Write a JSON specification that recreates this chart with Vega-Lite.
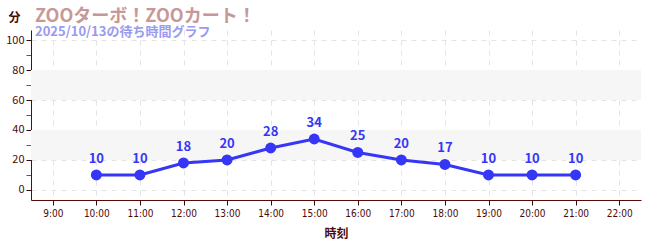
{
  "$schema": "https://vega.github.io/schema/vega-lite/v6.json",
  "width": 610,
  "height": 170,
  "autosize": {"type": "none"},
  "padding": {"left": 31, "top": 30, "right": 9, "bottom": 50},
  "background": "white",
  "title": {
    "text": "ZOOターボ！ZOOカート！",
    "subtitle": "\u00a02025/10/13の待ち時間グラフ",
    "anchor": "start",
    "frame": "group",
    "dx": 4,
    "offset": -28,
    "font": "Noto Sans CJK JP",
    "fontSize": 18,
    "fontWeight": "bold",
    "color": "#c89898",
    "subtitleFont": "Noto Sans CJK JP",
    "subtitleFontSize": 13,
    "subtitleFontWeight": "bold",
    "subtitleColor": "#9a9af0",
    "subtitlePadding": 0
  },
  "config": {
    "view": {"stroke": null},
    "font": "Noto Sans CJK JP",
    "axisY": {"labelOverlap": false}
  },
  "datasets": {
    "waits": [
      {"hour": 10, "wait": 10},
      {"hour": 11, "wait": 10},
      {"hour": 12, "wait": 18},
      {"hour": 13, "wait": 20},
      {"hour": 14, "wait": 28},
      {"hour": 15, "wait": 34},
      {"hour": 16, "wait": 25},
      {"hour": 17, "wait": 20},
      {"hour": 18, "wait": 17},
      {"hour": 19, "wait": 10},
      {"hour": 20, "wait": 10},
      {"hour": 21, "wait": 10}
    ],
    "bands": [
      {"wait": 20, "wait_hi": 40},
      {"wait": 60, "wait_hi": 80}
    ]
  },
  "encoding": {
    "y": {"field": "wait", "type": "quantitative", "scale": {"domain": [-6.67, 106.67], "nice": false, "zero": false},
      "axis": {
        "values": [0, 10, 20, 30, 40, 50, 60, 70, 80, 90, 100],
        "labelExpr": "datum.value % 20 == 0 ? datum.label : ''",
        "labelOverlap": false,
        "title": "分",
        "titleAngle": 0,
        "titleX": -17,
        "titleY": -13,
        "titleAlign": "center",
        "titleBaseline": "middle",
        "titleFontSize": 12,
        "titleFontWeight": "bold",
        "titleColor": "#4a0a0a",
        "labelColor": "#4a0a0a",
        "labelFontSize": 11,
        "labelFont": "Noto Sans CJK JP",
        "labelPadding": 2,
        "domainColor": "#5a0a0a",
        "tickColor": {"condition": {"test": "datum.value % 20 == 10", "value": "#dd2222"}, "value": "#3a0a0a"},
        "tickSize": 5,
        "gridColor": {"condition": {"test": "datum.value % 20 == 10", "value": "transparent"}, "value": "#e4e4e4"},
        "gridDash": [5, 5]
      }}
  },
  "layer": [
    {
      "data": {"name": "bands"},
      "mark": {"type": "rect", "color": "#f6f6f6"},
      "encoding": {
        "y2": {"field": "wait_hi"}
      }
    },
    {
      "data": {"name": "waits"},
      "mark": {"type": "line", "color": "#3636f6", "strokeWidth": 3},
      "encoding": {
        "x": {"field": "hour", "type": "quantitative", "scale": {"domain": [8.5, 22.5], "nice": false, "zero": false},
          "axis": {
            "values": [9, 10, 11, 12, 13, 14, 15, 16, 17, 18, 19, 20, 21, 22],
            "labelExpr": "datum.value + ':00'",
            "labelOverlap": false,
            "title": "時刻",
            "titleFontSize": 12,
            "titleFontWeight": "bold",
            "titleColor": "#4a0a0a",
            "titlePadding": 10,
            "labelColor": "#4a0a0a",
            "labelFontSize": 10,
            "labelFont": "DejaVu Sans Condensed",
            "labelPadding": 3,
            "domainColor": "#5a0a0a",
            "tickColor": "#3a0a0a",
            "tickSize": 5,
            "gridColor": "#e4e4e4",
            "gridDash": [5, 5]
          }}
      }
    },
    {
      "data": {"name": "waits"},
      "mark": {"type": "point", "filled": true, "opacity": 1, "size": 120, "color": "#3636f6"},
      "encoding": {
        "x": {"field": "hour", "type": "quantitative"}
      }
    },
    {
      "data": {"name": "waits"},
      "mark": {"type": "text", "dy": -16, "fontSize": 13, "fontWeight": "bold", "color": "#3636f6", "font": "Noto Sans CJK JP"},
      "encoding": {
        "x": {"field": "hour", "type": "quantitative"},
        "text": {"field": "wait", "type": "quantitative"}
      }
    },
    {
      "data": {"values": [{"site": "yuuenchi.net"}]},
      "mark": {"type": "text", "align": "right", "baseline": "middle", "fontSize": 15, "fontWeight": "bold", "color": "#8a8a8a", "font": "Noto Sans"},
      "encoding": {
        "x": {"datum": 22.4},
        "y": {"datum": -28.7},
        "text": {"field": "site"}
      }
    }
  ]
}
